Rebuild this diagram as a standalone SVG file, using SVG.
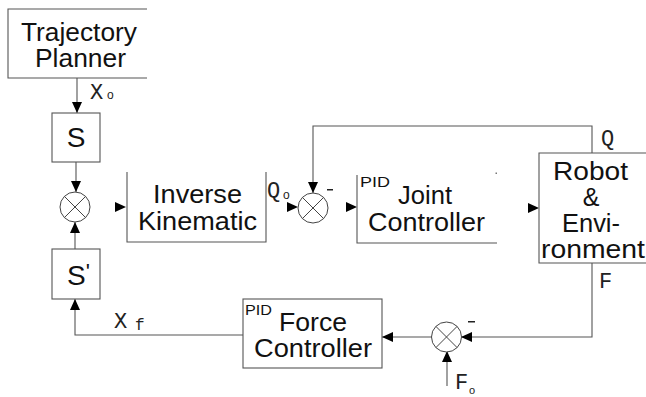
<svg xmlns="http://www.w3.org/2000/svg" width="646" height="397" viewBox="0 0 646 397">
<style>
.box{fill:none;stroke:#555;stroke-width:1.1}
.ln{fill:none;stroke:#555;stroke-width:1.1}
.sum{fill:#fff;stroke:#444;stroke-width:1}
.t{font-family:"Liberation Sans",Arial,sans-serif;font-size:25px;fill:#111}
.sup{font-family:"Liberation Sans",Arial,sans-serif;font-size:15px;fill:#111}
.lbl{font-family:"Liberation Mono","Courier New",monospace;font-size:22px;fill:#222}
.sub{font-family:"Liberation Sans",Arial,sans-serif;font-size:12px;fill:#222}
</style>
<defs>
<marker id="ah" markerUnits="userSpaceOnUse" markerWidth="12" markerHeight="10" refX="11" refY="5" orient="auto">
<path d="M0,0 L11,5 L0,10 z" fill="#000"/>
</marker>
</defs>
<rect width="646" height="397" fill="#fff"/>

<g id="connectors">
<path class="ln" d="M77,78 V113" marker-end="url(#ah)"/>
<path class="ln" d="M76,162 V192" marker-end="url(#ah)"/>
<path class="ln" d="M75,249 V222" marker-end="url(#ah)"/>
<path class="ln" d="M243,335 H75 V299" marker-end="url(#ah)"/>
<path d="M114,207 H126" stroke="none" fill="none" marker-end="url(#ah)"/>
<path d="M286,207 H298" stroke="none" fill="none" marker-end="url(#ah)"/>
<path class="ln" d="M592,153 V126 H313 V193" marker-end="url(#ah)"/>
<path d="M345,207 H357" stroke="none" fill="none" marker-end="url(#ah)"/>
<path d="M527,208 H539" stroke="none" fill="none" marker-end="url(#ah)"/>
<path class="ln" d="M592,263 V337 H461" marker-end="url(#ah)"/>
<path class="ln" d="M432,337 H382" marker-end="url(#ah)"/>
<path class="ln" d="M447,386 V351" marker-end="url(#ah)"/>
<text class="lbl" x="90" y="99">X</text><text class="sub" x="107" y="99">o</text>
<text class="lbl" x="267" y="197">Q</text><text class="sub" x="283" y="199">o</text>
<rect x="327" y="189" width="6" height="1.5" fill="#222"/>
<text class="lbl" x="601" y="145">Q</text>
<text class="lbl" x="599" y="288">F</text>
<text class="lbl" x="114" y="328">X</text><text class="lbl" x="135" y="330" style="font-size:16px">f</text>
<rect x="468" y="321" width="7" height="1.5" fill="#222"/>
<text class="lbl" x="455" y="389">F</text><text class="sub" x="469" y="394" style="font-size:11px">o</text>
</g>

<g id="trajectory-planner">
<path class="box" d="M147,9 H8 V78 H147"/>
<text class="t" x="79" y="41" text-anchor="middle" textLength="116" lengthAdjust="spacingAndGlyphs">Trajectory</text>
<text class="t" x="80.5" y="67" text-anchor="middle" textLength="91" lengthAdjust="spacingAndGlyphs">Planner</text>
</g>

<g id="s-block">
<rect class="box" x="52" y="113" width="48" height="49"/>
<text class="t" x="76" y="147" text-anchor="middle" style="font-size:28px">S</text>
</g>

<g id="sum-1">
<circle class="sum" cx="75" cy="207" r="15"/>
<path class="sum" d="M64.4,196.4 L85.6,217.6 M85.6,196.4 L64.4,217.6"/>
</g>

<g id="s-prime-block">
<rect class="box" x="52" y="249" width="48" height="50"/>
<text class="t" x="67" y="285" style="font-size:28px">S<tspan dy="-6" style="font-size:22px">'</tspan></text>
</g>

<g id="inverse-kinematic">
<path class="box" d="M127,172 V242 H266 V172"/>
<text class="t" x="197.5" y="203" text-anchor="middle" textLength="89" lengthAdjust="spacingAndGlyphs">Inverse</text>
<text class="t" x="197.5" y="230" text-anchor="middle" textLength="119" lengthAdjust="spacingAndGlyphs">Kinematic</text>
</g>

<g id="sum-2">
<circle class="sum" cx="313" cy="208" r="15"/>
<path class="sum" d="M302.4,197.4 L323.6,218.6 M323.6,197.4 L302.4,218.6"/>
</g>

<g id="joint-controller">
<path class="box" d="M357,175 V243 H497"/>
<rect x="495.5" y="172.5" width="1.5" height="1.5" fill="#777"/>
<text class="sup" x="360" y="187" textLength="30" lengthAdjust="spacingAndGlyphs">PID</text>
<text class="t" x="398" y="204" textLength="54" lengthAdjust="spacingAndGlyphs">Joint</text>
<text class="t" x="368" y="231" textLength="117" lengthAdjust="spacingAndGlyphs">Controller</text>
</g>

<g id="robot-environment">
<path class="box" d="M647,153 H539 V263 H647"/>
<text class="t" x="590.5" y="180" text-anchor="middle" textLength="75" lengthAdjust="spacingAndGlyphs">Robot</text>
<text class="t" x="591" y="206" text-anchor="middle">&amp;</text>
<text class="t" x="591" y="232" text-anchor="middle" textLength="58" lengthAdjust="spacingAndGlyphs">Envi-</text>
<text class="t" x="593" y="258" text-anchor="middle" textLength="104" lengthAdjust="spacingAndGlyphs">ronment</text>
</g>

<g id="sum-3">
<circle class="sum" cx="446.5" cy="337" r="15"/>
<path class="sum" d="M435.9,326.4 L457.1,347.6 M457.1,326.4 L435.9,347.6"/>
</g>

<g id="force-controller">
<rect class="box" x="243" y="299" width="139" height="69"/>
<text class="sup" x="245" y="315" textLength="27" lengthAdjust="spacingAndGlyphs">PID</text>
<text class="t" x="279" y="331" textLength="68" lengthAdjust="spacingAndGlyphs">Force</text>
<text class="t" x="254" y="357" textLength="118" lengthAdjust="spacingAndGlyphs">Controller</text>
</g>
</svg>
